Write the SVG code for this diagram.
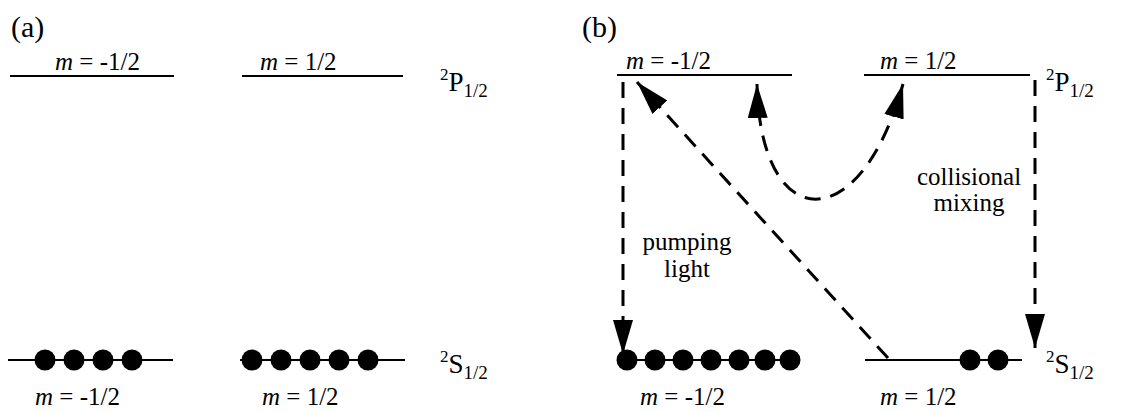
<svg xmlns="http://www.w3.org/2000/svg" width="1134" height="412" viewBox="0 0 1134 412">
<style>
text{font-family:"Liberation Serif","Times New Roman",serif;fill:#000}
.lbl{font-size:25px}
.pl{font-size:30px}
.term{font-size:27px}
.cap{font-size:25px}
.lvl{stroke:#000;stroke-width:2;fill:none}
.dash{stroke:#000;stroke-width:3;fill:none;stroke-dasharray:16 10}
.dot{fill:#000}
</style>
<defs>
<marker id="ah" viewBox="0 0 34 20" refX="34" refY="10" markerWidth="34" markerHeight="20" markerUnits="userSpaceOnUse" orient="auto-start-reverse">
<path d="M0 0 L34 10 L0 20 Z" fill="#000"/>
</marker>
</defs>
<rect width="1134" height="412" fill="#fff"/>

<!-- Panel (a) -->
<g id="label-a"><text class="pl" x="11" y="37">(a)</text></g>
<g id="a-p-minus">
<line class="lvl" x1="10" y1="76" x2="174" y2="76"/>
<text class="lbl" x="55" y="70"><tspan font-style="italic">m</tspan> = -1/2</text>
</g>
<g id="a-p-plus">
<line class="lvl" x1="242" y1="76" x2="403" y2="76"/>
<text class="lbl" x="260" y="70"><tspan font-style="italic">m</tspan> = 1/2</text>
</g>
<g id="a-p-term"><text class="term" x="440" y="91"><tspan font-size="17" dy="-11">2</tspan><tspan dy="11">P</tspan><tspan font-size="19" dy="6">1/2</tspan></text></g>
<g id="a-s-minus">
<line class="lvl" x1="8" y1="360" x2="173" y2="360"/>
<circle class="dot" cx="45" cy="360" r="10.5"/>
<circle class="dot" cx="74" cy="360" r="10.5"/>
<circle class="dot" cx="103" cy="360" r="10.5"/>
<circle class="dot" cx="132" cy="360" r="10.5"/>
<text class="lbl" x="35" y="405"><tspan font-style="italic">m</tspan> = -1/2</text>
</g>
<g id="a-s-plus">
<line class="lvl" x1="240" y1="360" x2="405" y2="360"/>
<circle class="dot" cx="252" cy="360" r="10.5"/>
<circle class="dot" cx="281" cy="360" r="10.5"/>
<circle class="dot" cx="310" cy="360" r="10.5"/>
<circle class="dot" cx="339" cy="360" r="10.5"/>
<circle class="dot" cx="368" cy="360" r="10.5"/>
<text class="lbl" x="262" y="405"><tspan font-style="italic">m</tspan> = 1/2</text>
</g>
<g id="a-s-term"><text class="term" x="440" y="373"><tspan font-size="17" dy="-11">2</tspan><tspan dy="11">S</tspan><tspan font-size="19" dy="6">1/2</tspan></text></g>

<!-- Panel (b) -->
<g id="label-b"><text class="pl" x="582" y="37">(b)</text></g>
<g id="b-p-minus">
<line class="lvl" x1="617" y1="75" x2="792" y2="75"/>
<text class="lbl" x="626" y="69"><tspan font-style="italic">m</tspan> = -1/2</text>
</g>
<g id="b-p-plus">
<line class="lvl" x1="864" y1="75" x2="1030" y2="75"/>
<text class="lbl" x="880" y="69"><tspan font-style="italic">m</tspan> = 1/2</text>
</g>
<g id="b-p-term"><text class="term" x="1046" y="91"><tspan font-size="17" dy="-11">2</tspan><tspan dy="11">P</tspan><tspan font-size="19" dy="6">1/2</tspan></text></g>
<g id="b-s-minus">
<line class="lvl" x1="617" y1="360" x2="800" y2="360"/>
<circle class="dot" cx="627" cy="360" r="10.5"/>
<circle class="dot" cx="655" cy="360" r="10.5"/>
<circle class="dot" cx="683" cy="360" r="10.5"/>
<circle class="dot" cx="711" cy="360" r="10.5"/>
<circle class="dot" cx="739" cy="360" r="10.5"/>
<circle class="dot" cx="765" cy="360" r="10.5"/>
<circle class="dot" cx="790" cy="360" r="10.5"/>
<text class="lbl" x="640" y="405"><tspan font-style="italic">m</tspan> = -1/2</text>
</g>
<g id="b-s-plus">
<line class="lvl" x1="865" y1="360" x2="1022" y2="360"/>
<circle class="dot" cx="970" cy="360" r="10.5"/>
<circle class="dot" cx="998" cy="360" r="10.5"/>
<text class="lbl" x="880" y="405"><tspan font-style="italic">m</tspan> = 1/2</text>
</g>
<g id="b-s-term"><text class="term" x="1046" y="373"><tspan font-size="17" dy="-11">2</tspan><tspan dy="11">S</tspan><tspan font-size="19" dy="6">1/2</tspan></text></g>
<g id="b-pumping"><text class="cap" text-anchor="middle" x="687" y="250">pumping</text><text class="cap" text-anchor="middle" x="687" y="277">light</text></g>
<g id="b-collisional"><text class="cap" text-anchor="middle" x="969" y="185">collisional</text><text class="cap" text-anchor="middle" x="969" y="211">mixing</text></g>

<g id="connectors">
<path class="dash" d="M623 82 L623 354" marker-end="url(#ah)"/>
<path class="dash" d="M1035 80 L1035 348" marker-end="url(#ah)"/>
<path class="dash" d="M888 358 L637 82" marker-end="url(#ah)"/>
<path class="dash" d="M757 84 C760 235 860 240 903 84" marker-start="url(#ah)" marker-end="url(#ah)"/>
</g>
</svg>
